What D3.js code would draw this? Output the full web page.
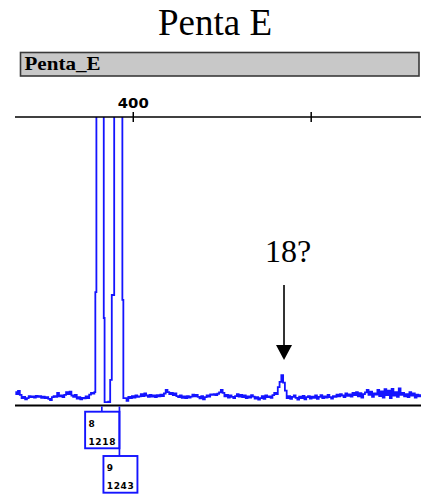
<!DOCTYPE html>
<html>
<head>
<meta charset="utf-8">
<script src="https://cdn.jsdelivr.net/npm/d3@7"></script>
<style>
  html, body { margin: 0; padding: 0; background: #fff; }
  svg { display: block; }
</style>
</head>
<body>
<svg id="chart" width="421" height="494"></svg>
<script>
// Penta E electropherogram panel: size (bp) vs signal (RFU)

const locusName = "Penta_E";
const chartTitle = "Penta E";
const sizeTicks = [400, 450];

// noise left of the allele peaks, sampled every 0.5 bp from 367 bp
const noiseLeftStart = 367;
const noiseLeftRfu = [45, 38, 49, 35, 24, 28, 20, 24, 31, 27, 30, 26, 32, 28, 31, 25, 29, 24, 27, 21,
  17, 27, 31, 28, 42, 30, 33, 27, 35, 45, 38, 46, 33, 28, 35, 22, 27, 20, 25, 23,
  30, 24, 36, 42, 40];

// the two called allele peaks (saturated, tops run off scale)
const peakSizes = [389.40, 389.55, 390.00, 391.30, 391.74, 391.95, 392.20, 392.90, 393.30,
  393.55, 393.75, 394.45, 395.10, 396.25, 396.95, 397.20, 397.50];
const peakRfu = [45, 392, 1100, 1218, 1100, 302, 10, 10, 12,
  10, 87, 382, 1100, 1243, 1100, 365, 24];

// noise right of the allele peaks, sampled every 0.5 bp from 397.5 bp
const noiseRightStart = 397.5;
const noiseRightRfu = [17, 24, 14, 28, 24, 31, 26, 33, 28, 30, 38, 31, 40, 33, 28, 35, 29, 33, 27, 34,
  30, 36, 31, 40, 52, 45, 38, 42, 34, 40, 31, 27, 33, 25, 30, 24, 31, 26, 29, 36,
  30, 35, 28, 23, 31, 20, 27, 33, 29, 37, 35, 38, 34, 39, 44, 52, 42, 30, 35, 26,
  33, 28, 24, 31, 38, 29, 35, 27, 33, 24, 30, 26, 34, 29, 22, 27, 19, 24, 31, 21,
  33, 27, 30, 25, 34, 42, 38, 62, 80, 104, 78, 50, 24, 31, 21, 28, 33, 25, 19, 29,
  24, 32, 20, 27, 31, 22, 29, 25, 33, 21, 28, 34, 24, 30, 26, 35, 27, 22, 31, 28,
  36, 30, 38, 33, 27, 40, 32, 37, 29, 42, 34, 45, 30, 41, 26, 38, 44, 52, 35, 46,
  28, 40, 36, 52, 31, 47, 26, 55, 34, 50, 24, 56, 33, 45, 28, 58, 35, 42, 30, 38,
  27, 45, 33, 40, 26, 36, 30, 34];

// allele calls: allele name, size and peak height
const alleleNames = ["8", "9"];
const alleleSizes = [391.30, 396.25];
const alleleHeights = [1218, 1243];

// questioned minor peak
const flagLabel = "18?";
const flagSize = 442.5;

const sampleStep = 0.5;
const trace = [];
noiseLeftRfu.forEach((v, i) => trace.push([noiseLeftStart + i * sampleStep, v]));
peakSizes.forEach((s, i) => trace.push([s, peakRfu[i]]));
noiseRightRfu.slice(1).forEach((v, i) => trace.push([noiseRightStart + (i + 1) * sampleStep, v]));

const svg = d3.select("#chart");
const plotLeft = 15, plotRight = 421, plotTop = 117, plotBottom = 405;
const blue = "#1414ff";

const x = d3.scaleLinear().domain([366.9, 481]).range([plotLeft, plotRight]);
const y = d3.scaleLinear().domain([0, 1000]).range([plotBottom, plotTop]);

// title
svg.append("text")
  .attr("x", 215).attr("y", 35)
  .attr("text-anchor", "middle")
  .attr("font-family", "'Liberation Serif', 'Times New Roman', serif")
  .attr("font-size", 37)
  .attr("fill", "#000")
  .text(chartTitle);

// locus header bar
svg.append("rect")
  .attr("x", 20.5).attr("y", 52.5).attr("width", 398.5).attr("height", 23.5)
  .attr("fill", "#c8c8c8").attr("stroke", "#3a3a3a").attr("stroke-width", 1.6);
svg.append("text")
  .attr("x", 24.5).attr("y", 69.5)
  .attr("font-family", "'Liberation Serif', 'Times New Roman', serif")
  .attr("font-weight", "bold")
  .attr("font-size", 19)
  .attr("textLength", 76).attr("lengthAdjust", "spacingAndGlyphs")
  .attr("fill", "#000")
  .text(locusName);

// clipped trace
svg.append("clipPath").attr("id", "plotClip")
  .append("rect")
  .attr("x", plotLeft).attr("y", plotTop)
  .attr("width", plotRight - plotLeft).attr("height", plotBottom - plotTop);

const line = d3.line().x(d => x(d[0])).y(d => y(d[1])).curve(d3.curveStep);
svg.append("path")
  .datum(trace)
  .attr("clip-path", "url(#plotClip)")
  .attr("d", line)
  .attr("fill", "none")
  .attr("stroke", blue)
  .attr("stroke-width", 1.8)
  .attr("stroke-linejoin", "miter");

// size axis along the top
const axis = d3.axisTop(x)
  .tickValues(sizeTicks)
  .tickFormat(d => (d % 100 === 0 ? d : ""))
  .tickSize(5)
  .tickPadding(4);
const axisG = svg.append("g")
  .attr("transform", `translate(0,${plotTop})`)
  .call(axis);
axisG.select(".domain").remove();
axisG.selectAll(".tick line").attr("y1", 5).attr("stroke", "#000").attr("stroke-width", 1.5);
axisG.selectAll(".tick text")
  .attr("font-family", "'DejaVu Sans', sans-serif")
  .attr("font-weight", "bold")
  .attr("font-size", 14)
  .attr("textLength", 31).attr("lengthAdjust", "spacingAndGlyphs")
  .attr("fill", "#000");
svg.append("line")
  .attr("x1", plotLeft).attr("x2", plotRight)
  .attr("y1", plotTop).attr("y2", plotTop)
  .attr("stroke", "#000").attr("stroke-width", 1.6);

// baseline
svg.append("line")
  .attr("x1", plotLeft).attr("x2", plotRight)
  .attr("y1", plotBottom + 0.5).attr("y2", plotBottom + 0.5)
  .attr("stroke", "#000").attr("stroke-width", 2.2);

// allele call boxes
const p1 = x(alleleSizes[0]), p2 = x(alleleSizes[1]);
const boxes = [
  { x0: p1 - 16.7, x1: p2, y0: 411.7, y1: 448.3, cx: p1 },
  { x0: p2 - 16, x1: p2 + 18, y0: 456, y1: 492.7, cx: p2 }
];
boxes.forEach((b, i) => {
  svg.append("line")
    .attr("x1", b.cx).attr("x2", b.cx)
    .attr("y1", plotBottom + 1.5).attr("y2", b.y0)
    .attr("stroke", blue).attr("stroke-width", 1.7);
  svg.append("rect")
    .attr("x", b.x0).attr("y", b.y0)
    .attr("width", b.x1 - b.x0).attr("height", b.y1 - b.y0)
    .attr("fill", "#fff").attr("stroke", blue).attr("stroke-width", 1.9);
  svg.append("text")
    .attr("x", b.x0 + 3.3).attr("y", b.y0 + 15)
    .attr("font-family", "'DejaVu Sans', sans-serif")
    .attr("font-weight", "bold")
    .attr("font-size", 9)
    .attr("fill", "#000")
    .text(alleleNames[i]);
  svg.append("text")
    .attr("x", b.x0 + 3.3).attr("y", b.y0 + 33)
    .attr("font-family", "'DejaVu Sans', sans-serif")
    .attr("font-weight", "bold")
    .attr("font-size", 9)
    .attr("textLength", 27).attr("lengthAdjust", "spacing")
    .attr("fill", "#000")
    .text(alleleHeights[i]);
});

// annotation for the questioned peak
const fx = x(flagSize);
svg.append("text")
  .attr("x", fx + 4).attr("y", 261.5)
  .attr("text-anchor", "middle")
  .attr("font-family", "'Liberation Serif', 'Times New Roman', serif")
  .attr("font-size", 32)
  .attr("fill", "#000")
  .text(flagLabel);
svg.append("line")
  .attr("x1", fx).attr("x2", fx)
  .attr("y1", 285).attr("y2", 347)
  .attr("stroke", "#000").attr("stroke-width", 1.6);
svg.append("path")
  .attr("d", `M${fx - 8},345 L${fx + 8},345 L${fx},360 Z`)
  .attr("fill", "#000");
</script>
</body>
</html>
